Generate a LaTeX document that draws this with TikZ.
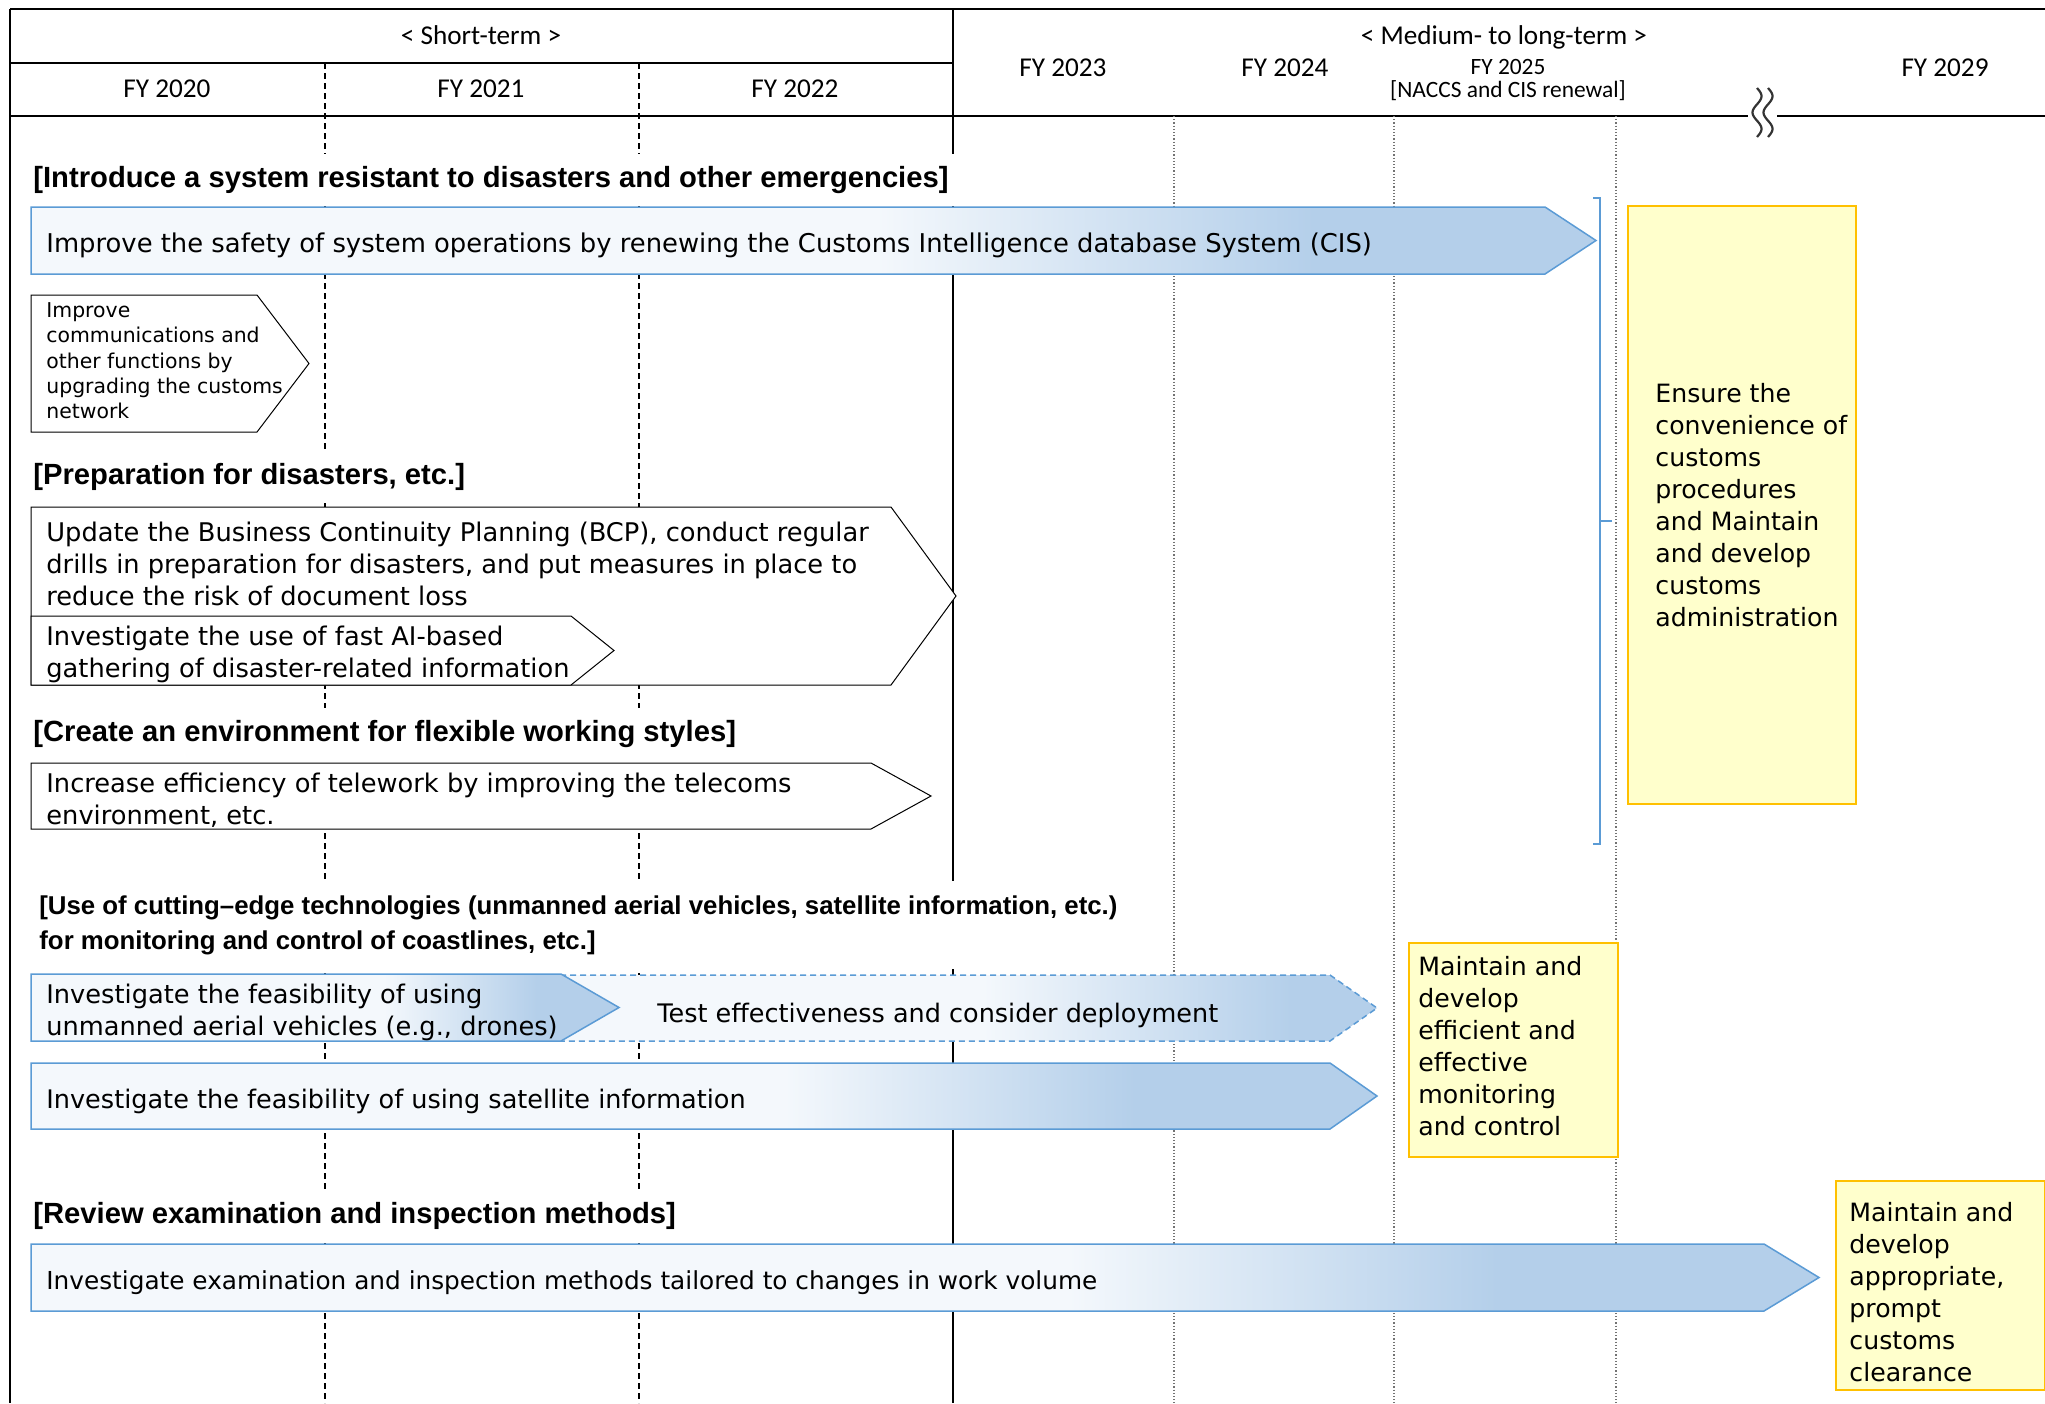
\documentclass[tikz,border=0pt]{standalone}
\usepackage{fontspec}
\setmainfont{DejaVu Sans}
\newfontfamily\headfont{Carlito}
\newfontfamily\titlefont{Liberation Sans}
\usetikzlibrary{positioning}

\definecolor{arrline}{HTML}{5B9BD5}
\definecolor{arrlight}{HTML}{F4F8FC}
\definecolor{arrblue}{HTML}{B4CFEA}
\definecolor{goalfill}{HTML}{FFFFCC}
\definecolor{goalline}{HTML}{FFC000}

\pgfdeclarehorizontalshading{cisfade}{100bp}{color(0bp)=(arrlight); color(52bp)=(arrlight); color(66bp)=(arrblue); color(100bp)=(arrblue)}
\pgfdeclarehorizontalshading{dronefade}{100bp}{color(0bp)=(arrlight); color(55bp)=(arrlight); color(68bp)=(arrblue); color(100bp)=(arrblue)}
\pgfdeclarehorizontalshading{trialfade}{100bp}{color(0bp)=(arrlight); color(52bp)=(arrlight); color(70bp)=(arrblue); color(100bp)=(arrblue)}
\pgfdeclarehorizontalshading{satfade}{100bp}{color(0bp)=(arrlight); color(53bp)=(arrlight); color(66bp)=(arrblue); color(100bp)=(arrblue)}
\pgfdeclarehorizontalshading{examfade}{100bp}{color(0bp)=(arrlight); color(54bp)=(arrlight); color(66bp)=(arrblue); color(100bp)=(arrblue)}

% left x, body end x, tip x, top y, bottom y
\newcommand{\chevron}[6]{\path[#1] (#2,#5) -- (#3,#5) -- (#4,{(#5+#6)/2}) -- (#3,#6) -- (#2,#6) -- cycle;}

\begin{document}
\begin{tikzpicture}[
            x = 0.5pt,
            y = -0.5pt,
            node distance = 157pt,
            frame/.style = {line width=1pt},
            yeardash/.style = {line width=0.7pt, dash pattern=on 3pt off 2pt},
            yeardot/.style = {line width=0.6pt, black!55, densely dotted},
            yearlabel/.style = {font=\headfont\fontsize{13.6}{16}\selectfont, inner sep=0pt},
            smalllabel/.style = {font=\headfont\fontsize{11.7}{14}\selectfont, inner sep=0pt},
            heading/.style = {anchor=west, fill=white, inner xsep=5pt, inner ysep=0pt,
                minimum height=26pt, font=\titlefont\bfseries\fontsize{14.6}{17}\selectfont},
            boxtext/.style = {anchor=west, inner sep=0pt, align=left, font=\fontsize{#1}{16}\selectfont},
            boxtext/.default = 12.6,
            plainarrow/.style = {draw=black, line width=0.5pt, fill=white},
            bluearrow/.style = {draw=arrline, line width=0.75pt},
            goalbox/.style = {draw=goalline, line width=0.75pt, fill=goalfill, inner sep=0pt, anchor=north west},
            bracket/.style = {draw=arrline, line width=0.75pt}
        ]

        \useasboundingbox (0,0) rectangle (2045,1403);

        % year grid
        \draw[frame] (10,9) -- (2045,9);
        \draw[frame] (10,9) -- (10,1403);
        \draw[frame] (10,63) -- (953,63);
        \draw[frame] (10,116) -- (1748,116);
        \draw[frame] (1777,116) -- (2045,116);
        \draw[frame] (953,9) -- (953,1403);
        \foreach \x in {325,639} \draw[yeardash] (\x,63) -- (\x,1403);
        \foreach \x in {1174,1394,1616} \draw[yeardot] (\x,116) -- (\x,1403);
        \foreach \wx in {1757,1768}
            \draw[line width=1.1pt, black!80, domain=0:1, samples=40, variable=\t] plot ({\wx+4.5*sin(540*\t)}, {88+49*\t});

        \node[yearlabel] (shortterm) at (481,35) {< Short-term >};
        \node[yearlabel] (fy2020) at (167,89) {FY 2020};
        \node[yearlabel, right of=fy2020] (fy2021) {FY 2021};
        \node[yearlabel, right of=fy2021] (fy2022) {FY 2022};
        \node[yearlabel] (midlong) at (1504,37) {< Medium- to long-term >};
        \node[yearlabel] (fy2023) at (1063,68) {FY 2023};
        \node[yearlabel, right of=fy2023, node distance=111pt] (fy2024) {FY 2024};
        \node[smalllabel] (fy2025) at (1508,67) {FY 2025};
        \node[smalllabel, below of=fy2025, node distance=12pt] (renewal) {[NACCS and CIS renewal]};
        \node[yearlabel] (fy2029) at (1945,68) {FY 2029};

        % headings
        \node[heading] (hsys) at (23,180) {[Introduce a system resistant to disasters and other emergencies]};
        \node[heading] (hprep) at (23,477) {[Preparation for disasters, etc.]};
        \node[heading] (hwork) at (23,734) {[Create an environment for flexible working styles]};
        \node[heading, align=left, minimum height=44pt,
            font=\titlefont\bfseries\fontsize{12.9}{17.5}\selectfont] (htech) at (29,925)
            {[Use of cutting–edge technologies (unmanned aerial vehicles, satellite information, etc.)\\for monitoring and control of coastlines, etc.]};
        \node[heading] (hreview) at (23,1216) {[Review examination and inspection methods]};

        % disasters
        \chevron{bluearrow, shade, shading=cisfade}{31}{1545}{1596}{207}{274}
        \node[boxtext=12.92] (cis) at (46,245) {Improve the safety of system operations by renewing the Customs Intelligence database System (CIS)};
        \chevron{plainarrow}{31}{257}{309}{295}{432}
        \node[boxtext, font=\fontsize{10.2}{12.65}\selectfont] (net) at (46,361)
            {Improve\\communications and\\other functions by\\upgrading the customs\\network};
        \chevron{plainarrow}{31}{891}{956}{507}{685}
        \node[boxtext=12.85] (bcp) at (46,564)
            {Update the Business Continuity Planning (BCP), conduct regular\\drills in preparation for disasters, and put measures in place to\\reduce the risk of document loss};
        \chevron{plainarrow}{31}{571}{614}{616}{685}
        \node[boxtext=12.85] (ai) at (46,654) {Investigate the use of fast AI-based\\gathering of disaster-related information};
        \chevron{plainarrow}{31}{871}{931}{763}{829}
        \node[boxtext=12.85] (telework) at (46,800) {Increase efficiency of telework by improving the telecoms\\environment, etc.};

        \coordinate (brtop) at (1600,198);
        \coordinate (brmid) at (1600,521);
        \coordinate (brbot) at (1600,844);
        \draw[bracket] ([xshift=-3.5pt]brtop) -- (brtop) -- (brbot) -- ([xshift=-3.5pt]brbot);
        \draw[bracket] (brmid) -- ([xshift=6pt]brmid);

        \node[goalbox, minimum width=114pt, minimum height=299pt] (goalcustoms) at (1627,205) {};
        \node[boxtext, right=14pt of goalcustoms.west] (goalcustomstext)
            {Ensure the\\convenience of\\customs\\procedures\\and Maintain\\and develop\\customs\\administration};

        % coastlines
        \chevron{bluearrow, densely dashed, shade, shading=trialfade}{520}{1330}{1377}{975}{1041}
        \node[boxtext=12.75] (trial) at (657,1015) {Test effectiveness and consider deployment};
        \chevron{bluearrow, shade, shading=dronefade}{31}{561}{619}{974}{1041}
        \node[boxtext=12.83] (drone) at (46,1012) {Investigate the feasibility of using\\unmanned aerial vehicles (e.g., drones)};
        \chevron{bluearrow, shade, shading=satfade}{31}{1330}{1377}{1063}{1129}
        \node[boxtext=12.77] (sat) at (46,1101) {Investigate the feasibility of using satellite information};

        \node[goalbox, minimum width=104.5pt, minimum height=107pt] (goalcoast) at (1408,942) {};
        \node[boxtext, right=5pt of goalcoast.west, yshift=2pt] (goalcoasttext)
            {Maintain and\\develop\\efficient and\\effective\\monitoring\\and control};

        % inspection
        \chevron{bluearrow, shade, shading=examfade}{31}{1764}{1819}{1244}{1311}
        \node[boxtext=12.38] (exam) at (46,1283) {Investigate examination and inspection methods tailored to changes in work volume};

        \node[goalbox, minimum width=104.5pt, minimum height=104.5pt] (goalclear) at (1835,1180) {};
        \node[boxtext, right=7pt of goalclear.west, yshift=-3.5pt] (goalcleartext)
            {Maintain and\\develop\\appropriate,\\prompt\\customs\\clearance};

    \end{tikzpicture}
\end{document}
